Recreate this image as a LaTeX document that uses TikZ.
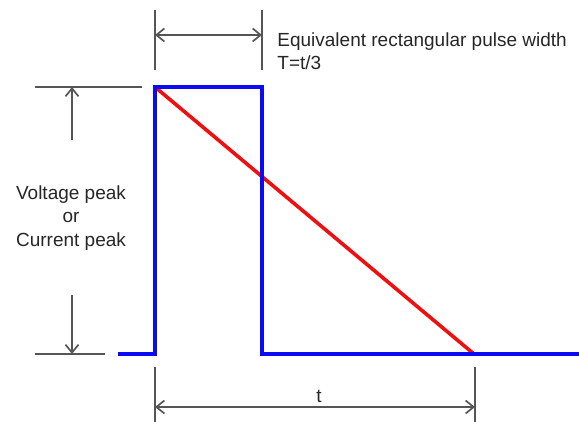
\documentclass[tikz,border=0pt]{standalone}
\usepackage{fontspec}
\setmainfont{Liberation Sans}
\usetikzlibrary{arrows.meta}
\definecolor{dimgray}{HTML}{555555}
\definecolor{pulseblue}{HTML}{0A0AF5}
\definecolor{rampred}{HTML}{EE1010}

\begin{document}
\begin{tikzpicture}[x=0.5pt,y=-0.5pt,
    every node/.style={font=\fontsize{9.5}{11.6}\selectfont, text=black!85, inner sep=0pt},
    dimline/.style={draw=dimgray, line width=0.85pt},
    dimarrow/.style={dimline, -{Straight Barb[length=4pt,width=6.5pt]}},
    dimboth/.style={dimline, {Straight Barb[length=4pt,width=6.5pt]}-{Straight Barb[length=4pt,width=6.5pt]}}]
                \useasboundingbox (0,0) rectangle (579,422);
                % pulse corners
                \coordinate (start) at (118,354);
                \coordinate (riseB) at (155,354);
                \coordinate (riseT) at (155,87);
                \coordinate (fallT) at (262,87);
                \coordinate (fallB) at (262,354);
                \coordinate (rampE) at (474,354);
                \coordinate (stop) at (579,354);
                % triangular pulse and equivalent rectangle
                \draw[rampred, line width=1.8pt] (riseT) -- (rampE);
                \draw[pulseblue, line width=2.2pt] (start) -- (riseB) -- (riseT) -- (fallT) -- (fallB) -- (stop);
                % width T
                \coordinate (wTa) at (155,10);
                \coordinate (wTb) at (155,70);
                \coordinate (wTc) at (262,10);
                \coordinate (wTd) at (262,70);
                \coordinate (wTl) at (155,35);
                \coordinate (wTr) at (262,35);
                \draw[dimline] (wTa) -- (wTb);
                \draw[dimline] (wTc) -- (wTd);
                \draw[dimboth] (wTl) -- (wTr);
                \node[anchor=base west, align=left] (wlabel) at (277,70) {Equivalent rectangular pulse width\\T=t/3};
                % peak
                \coordinate (pkTa) at (35,87);
                \coordinate (pkTb) at (142,87);
                \coordinate (pkBa) at (35,354);
                \coordinate (pkBb) at (105,354);
                \coordinate (pkUp) at (72,140);
                \coordinate (pkTop) at (72,87);
                \coordinate (pkDn) at (72,295);
                \coordinate (pkBot) at (72,354);
                \draw[dimline] (pkTa) -- (pkTb);
                \draw[dimline] (pkBa) -- (pkBb);
                \draw[dimarrow] (pkUp) -- (pkTop);
                \draw[dimarrow] (pkDn) -- (pkBot);
                \node[align=center] (pklabel) at (71,218) {Voltage peak\\or\\Current peak};
                % duration t
                \coordinate (dTa) at (155,367);
                \coordinate (dTb) at (155,422);
                \coordinate (dTc) at (475,367);
                \coordinate (dTd) at (475,422);
                \coordinate (dTl) at (155,407);
                \coordinate (dTr) at (475,407);
                \draw[dimline] (dTa) -- (dTb);
                \draw[dimline] (dTc) -- (dTd);
                \draw[dimboth] (dTl) -- (dTr);
                \node (tlabel) at (319,396) {t};
            \end{tikzpicture}
\end{document}
